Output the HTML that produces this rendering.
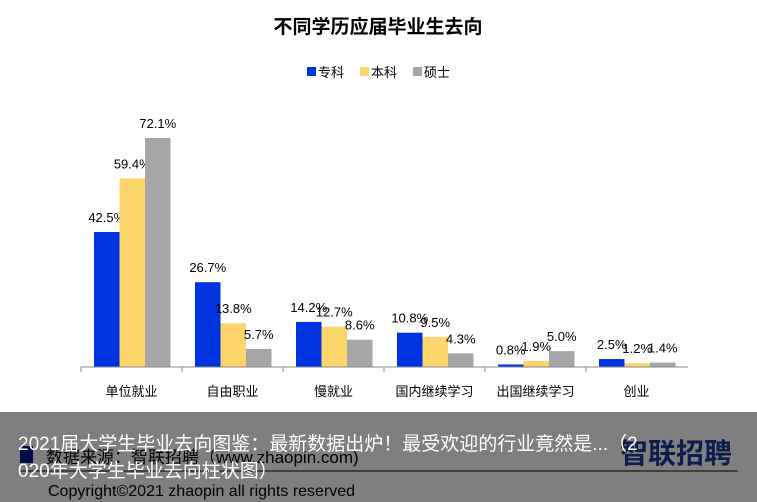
<!DOCTYPE html>
<html><head><meta charset="utf-8"><style>
body{margin:0;width:757px;height:502px;overflow:hidden;background:#fff;font-family:"Liberation Sans","Noto Sans CJK SC",sans-serif;position:relative}
svg{position:absolute;left:0;top:0}
</style></head><body>
<svg width="757" height="502">
<text x="378" y="33" text-anchor="middle" font-size="19" font-weight="bold" fill="#000">不同学历应届毕业生去向</text>
<g id="legend" font-size="13"></g>
<g id="bars"></g>
<line x1="81" y1="367" x2="688" y2="367" stroke="#888"/>
<g id="xlabels" font-size="13"></g>
<text x="46" y="463" font-size="17" fill="#000">数据来源：智联招聘（www.zhaopin.com)</text>
<rect x="20" y="446" width="13" height="17" fill="#001a8c"/>
<line x1="20" y1="471" x2="738" y2="471" stroke="#000"/>
<text x="48" y="496" font-size="16" fill="#000">Copyright©2021 zhaopin all rights reserved</text>
<text x="620" y="463" font-size="28" font-weight="bold" fill="#1a3a9a">智联招聘</text>
<rect x="0" y="412" width="757" height="90" fill="#000" fill-opacity="0.5"/>
<text x="18" y="450" font-size="19" fill="#fff">2021届大学生毕业去向图鉴：最新数据出炉！最受欢迎的行业竟然是...（2</text>
<text x="18" y="477" font-size="19" fill="#fff">020年大学生毕业去向柱状图）</text>
</svg>
<script>
const categories=["单位就业","自由职业","慢就业","国内继续学习","出国继续学习","创业"];
const seriesNames=["专科","本科","硕士"];
const zhuanke=[42.5,26.7,14.2,10.8,0.8,2.5];
const benke=[59.4,13.8,12.7,9.5,1.9,1.2];
const shuoshi=[72.1,5.7,8.6,4.3,5.0,1.4];
const colors=["#0033e0","#fdd66b","#a6a6a6"];
const NS="http://www.w3.org/2000/svg";
const x0=81,catW=101,barW=25.5,baseY=367,scale=229/72.1;
const xPos=(c,s)=>x0+c*catW+13+s*barW;
const yPos=v=>baseY-v*scale;
const series=[zhuanke,benke,shuoshi];
const bars=document.getElementById('bars');
series.forEach((arr,s)=>arr.forEach((v,c)=>{
 const r=document.createElementNS(NS,'rect');
 r.setAttribute('x',xPos(c,s));r.setAttribute('y',yPos(v));
 r.setAttribute('width',barW);r.setAttribute('height',baseY-yPos(v));
 r.setAttribute('fill',colors[s]);
 
 
 bars.appendChild(r);
 const t=document.createElementNS(NS,'text');
 t.setAttribute('x',xPos(c,s)+barW/2);t.setAttribute('y',yPos(v)-10);
 t.setAttribute('text-anchor','middle');t.setAttribute('font-size','13');
 t.textContent=v.toFixed(1)+'%';
 
 
 bars.appendChild(t);
}));
const xl=document.getElementById('xlabels');
categories.forEach((c,i)=>{
 const t=document.createElementNS(NS,'text');
 t.setAttribute('x',x0+i*catW+catW/2);t.setAttribute('y',396);
 t.setAttribute('text-anchor','middle');t.textContent=c;
 
 
 xl.appendChild(t);
 const l=document.createElementNS(NS,'line');
 l.setAttribute('x1',x0+i*catW);l.setAttribute('x2',x0+i*catW);
 l.setAttribute('y1',367);l.setAttribute('y2',372);l.setAttribute('stroke','#888');
 
 
 xl.appendChild(l);
});
const lg=document.getElementById('legend');
seriesNames.forEach((n,i)=>{
 const r=document.createElementNS(NS,'rect');
 r.setAttribute('x',307+i*53);r.setAttribute('y',67);r.setAttribute('width',9);r.setAttribute('height',9);
 r.setAttribute('fill',colors[i]);
 
 
 lg.appendChild(r);
 const t=document.createElementNS(NS,'text');
 t.setAttribute('x',318+i*53);t.setAttribute('y',77);t.textContent=n;
 
 
 lg.appendChild(t);
});
</script>
</body></html>
